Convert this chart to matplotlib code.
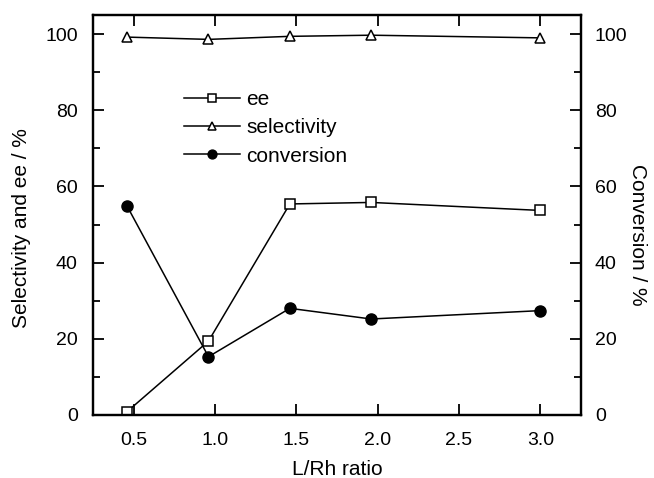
import matplotlib
matplotlib.use("Agg")
import matplotlib.pyplot as plt
from matplotlib.ticker import MultipleLocator

plt.rcParams['font.family'] = ['Liberation Sans', 'DejaVu Sans']
plt.rcParams['font.size'] = 14

# L/Rh ratios and measured values
ratio = [0.46, 0.96, 1.46, 1.96, 3.0]
ee = [0.9, 19.4, 55.4, 55.8, 53.7]
selectivity = [99.2, 98.6, 99.4, 99.7, 99.0]
conversion = [54.8, 15.3, 28.0, 25.2, 27.4]

fig = plt.figure(figsize=(6.54, 4.78), dpi=100)
ax = fig.add_axes([0.1422, 0.1318, 0.7462, 0.8368])
ax2 = ax.twinx()

l1, = ax.plot(ratio, ee, color='black', lw=1.1, marker='s', ms=7,
              mfc='white', mec='black', mew=1.1, label='ee')
l2, = ax.plot(ratio, selectivity, color='black', lw=1.1, marker='^', ms=7,
              mfc='white', mec='black', mew=1.1, label='selectivity')
l3, = ax2.plot(ratio, conversion, color='black', lw=1.1, marker='o', ms=8,
               mfc='black', mec='black', label='conversion')

for a in (ax, ax2):
    a.set_ylim(0, 105)
    a.yaxis.set_major_locator(MultipleLocator(20))
    a.yaxis.set_minor_locator(MultipleLocator(10))
    for s in a.spines.values():
        s.set_linewidth(1.6)
ax.set_xlim(0.25, 3.25)
ax.set_xticks([0.5, 1.0, 1.5, 2.0, 2.5, 3.0])
ax.set_xticklabels(['0.5', '1.0', '1.5', '2.0', '2.5', '3.0'])

ax.tick_params(axis='x', which='major', direction='in', top=True, length=8, width=1.3, pad=12)
ax.tick_params(axis='y', which='major', direction='in', length=8, width=1.3, pad=11)
ax.tick_params(axis='y', which='minor', direction='in', length=5, width=1.3)
ax2.tick_params(axis='y', which='major', direction='in', length=8, width=1.3, pad=10)
ax2.tick_params(axis='y', which='minor', direction='in', length=5, width=1.3)

ax.set_xlabel('L/Rh ratio', fontsize=15, va='top')
ax.xaxis.set_label_coords(0.5, -0.112)
ax.set_ylabel('Selectivity and ee / %', fontsize=15, ha='center', va='center',
              rotation_mode='anchor')
ax.yaxis.set_label_coords(-0.1455, 0.4675)
ax2.set_ylabel('Conversion / %', fontsize=15, rotation=-90, ha='center', va='center',
               rotation_mode='anchor')
ax2.yaxis.set_label_coords(1.1148, 0.45)

ax.legend(handles=[l1, l2, l3], loc='upper left', bbox_to_anchor=(0.186, 0.8125),
          frameon=False, borderpad=0, borderaxespad=0, handlelength=2.7,
          handletextpad=0.3, labelspacing=0.45, markerscale=0.8, fontsize=15)

fig.savefig('out.png', dpi=100, facecolor='white')
